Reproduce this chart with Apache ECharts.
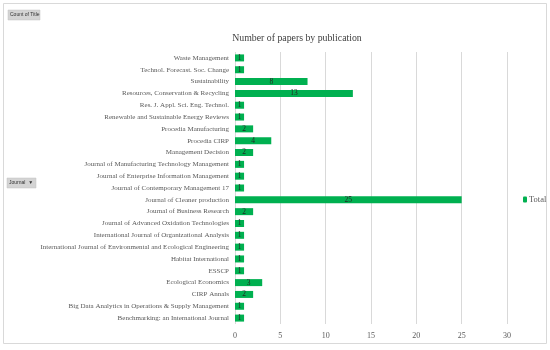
<!DOCTYPE html>
<html><head><meta charset="utf-8">
<script src="https://cdn.jsdelivr.net/npm/echarts@6/dist/echarts.min.js"></script>
<style>html,body{margin:0;padding:0;background:#fff}#c{width:550px;height:350px}</style>
</head><body><div id="c"></div>
<script>
var categories = [
  "Benchmarking: an International Journal",
  "Big Data Analytics in Operations & Supply Management",
  "CIRP Annals",
  "Ecological Economics",
  "ESSCP",
  "Habitat International",
  "International Journal of Environmental and Ecological Engineering",
  "International Journal of Organizational Analysis",
  "Journal of Advanced Oxidation Technologies",
  "Journal of Business Research",
  "Journal of Cleaner production",
  "Journal of Contemporary Management 17",
  "Journal of Enterprise Information Management",
  "Journal of Manufacturing Technology Management",
  "Management Decision",
  "Procedia CIRP",
  "Procedia Manufacturing",
  "Renewable and Sustainable Energy Reviews",
  "Res. J. Appl. Sci. Eng. Technol.",
  "Resources, Conservation & Recycling",
  "Sustainability",
  "Technol. Forecast. Soc. Change",
  "Waste Management"
];
var totals = [1,1,2,3,1,1,1,1,1,2,25,1,1,1,2,4,2,1,1,13,8,1,1];
var xTicks = [0,5,10,15,20,25,30];
var seriesName = "Total";
var titleText = "Number of papers by publication";

var serif = "'Liberation Serif', 'Times New Roman', serif";
var chart = echarts.init(document.getElementById('c'));
chart.setOption({
  animation: false,
  backgroundColor: '#fff',
  title: {
    text: titleText, left: 292, top: 28, textAlign: 'center',
    textStyle: {fontFamily: serif, fontSize: 9.8, fontWeight: 'normal', color: '#404040'}
  },
  legend: {
    data: [seriesName], left: 518, top: 190, orient: 'vertical',
    itemWidth: 4, itemHeight: 6, itemGap: 2,
    textStyle: {fontFamily: serif, fontSize: 8.5, color: '#595959', padding: [0,0,0,-3]}
  },
  grid: {left: 235, right: 43, top: 52, bottom: 26, containLabel: false},
  xAxis: {
    type: 'value', min: xTicks[0], max: xTicks[xTicks.length-1], interval: 5,
    axisLine: {show: false}, axisTick: {show: false},
    axisLabel: {fontFamily: serif, fontSize: 8, color: '#595959', margin: 8},
    splitLine: {lineStyle: {color: '#d9d9d9', width: 1}}
  },
  yAxis: {
    type: 'category', data: categories,
    axisLabel: {fontFamily: serif, fontSize: 7.0, color: '#595959', margin: 6, interval: 0},
    axisLine: {show: false}, axisTick: {show: false}
  },
  series: [{
    name: seriesName, type: 'bar', data: totals, barWidth: 7,
    itemStyle: {color: '#00B050'},
    label: {show: true, position: 'inside', fontFamily: serif, fontSize: 7.5, color: '#262626'},
    labelLayout: {hideOverlap: false}
  }],
  graphic: [
    {type: 'rect', shape: {x: 3.5, y: 3.5, width: 543, height: 340}, style: {fill: 'none', stroke: '#d9d9d9', lineWidth: 1}, z: -1},
    {type: 'rect', shape: {x: 8, y: 10, width: 32, height: 10}, style: {fill: '#d4d4d4', stroke: '#c0c0c0', lineWidth: 0.5}},
    {type: 'text', left: 10, top: 12, style: {text: 'Count of Title', fontSize: 5, fontFamily: 'Liberation Sans', fill: '#333'}},
    {type: 'rect', shape: {x: 7, y: 178, width: 29, height: 10}, style: {fill: '#d4d4d4', stroke: '#c0c0c0', lineWidth: 0.5}},
    {type: 'text', left: 9, top: 180, style: {text: 'Journal  \u25BC', fontSize: 5, fontFamily: 'Liberation Sans', fill: '#333'}}
  ]
});
</script></body></html>
